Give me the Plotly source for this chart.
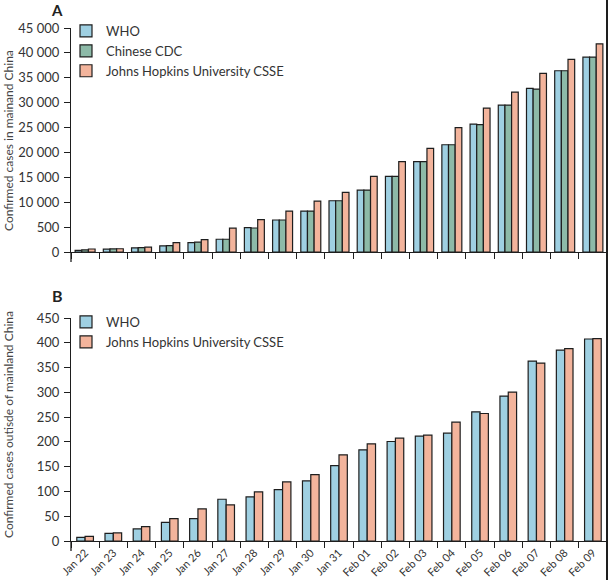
import plotly.graph_objects as go

dates = ["Jan 22", "Jan 23", "Jan 24", "Jan 25", "Jan 26", "Jan 27", "Jan 28", "Jan 29",
         "Jan 30", "Jan 31", "Feb 01", "Feb 02", "Feb 03", "Feb 04", "Feb 05", "Feb 06",
         "Feb 07", "Feb 08", "Feb 09"]

# Panel A: confirmed cases in mainland China
a_who = [310, 570, 830, 1250, 1900, 2560, 4900, 6430, 8230, 10300, 12450, 15190,
         18140, 21550, 25700, 29520, 32860, 36410, 39150]
a_cdc = [440, 610, 880, 1290, 1975, 2560, 4820, 6430, 8230, 10300, 12450, 15190,
         18140, 21550, 25570, 29520, 32730, 36410, 39150]
a_jhu = [600, 650, 960, 1870, 2480, 4800, 6500, 8230, 10240, 11980, 15190, 18140,
         20820, 24970, 28910, 32130, 35870, 38690, 41830]

# Panel B: confirmed cases outside of mainland China
b_who = [7.4, 15.5, 24.3, 37.7, 45.1, 84.2, 88.9, 103.7, 121.3, 152.2, 183.9, 200.8,
         211.5, 217.6, 260.7, 292.4, 363.1, 385.3, 407.6]
b_jhu = [9.4, 16.2, 29, 45.1, 64.7, 72.8, 99, 119.2, 134, 173.8, 196, 207.5,
         213.6, 239.8, 257.3, 300.5, 359, 388, 408.2]

a_ticks = [0, 5000, 10000, 15000, 20000, 25000, 30000, 35000, 40000, 45000]
a_ticktext = ["0", "500", "10 000", "15 000", "20 000", "25 000", "30 000", "35 000", "40 000", "45 000"]
b_ticks = [0, 50, 100, 150, 200, 250, 300, 350, 400, 450]

C_WHO = "#9fd0e2"
C_CDC = "#8dbaa8"
C_JHU = "#f3b49c"
OUT = dict(color="#1e1e1e", width=1.2)
FONT = "Lato"

fig = go.Figure()
wA = 0.236
fig.add_trace(go.Bar(x=dates, y=a_who, name="WHO", marker=dict(color=C_WHO, line=OUT),
                     width=wA, offset=-1.5 * wA, xaxis="x", yaxis="y", legend="legend"))
fig.add_trace(go.Bar(x=dates, y=a_cdc, name="Chinese CDC", marker=dict(color=C_CDC, line=OUT),
                     width=wA, offset=-0.5 * wA, xaxis="x", yaxis="y", legend="legend"))
fig.add_trace(go.Bar(x=dates, y=a_jhu, name="Johns Hopkins University CSSE", marker=dict(color=C_JHU, line=OUT),
                     width=wA, offset=0.5 * wA, xaxis="x", yaxis="y", legend="legend"))
wB = 0.295
fig.add_trace(go.Bar(x=dates, y=b_who, name="WHO", marker=dict(color=C_WHO, line=OUT),
                     width=wB, offset=-wB, xaxis="x2", yaxis="y2", legend="legend2"))
fig.add_trace(go.Bar(x=dates, y=b_jhu, name="Johns Hopkins University CSSE", marker=dict(color=C_JHU, line=OUT),
                     width=wB, offset=0, xaxis="x2", yaxis="y2", legend="legend2"))

axis_common = dict(showline=True, linecolor="#1e1e1e", linewidth=1.3, ticks="outside",
                   ticklen=6, tickwidth=1.3, tickcolor="#1e1e1e", showgrid=False, zeroline=False,
                   tickfont=dict(family=FONT, size=13, color="#333333"))

H = 513.0
W = 536.0
fig.update_layout(
    width=608, height=580,
    margin=dict(l=71, r=1, t=28, b=39, autoexpand=False),
    paper_bgcolor="white", plot_bgcolor="white",
    barmode="overlay",
    font=dict(family=FONT, size=12, color="#333333"),
    xaxis=dict(axis_common, type="category", tickson="boundaries", showticklabels=False,
               anchor="y", domain=[0, 1]),
    yaxis=dict(axis_common, range=[0, 45000], tickvals=a_ticks, ticktext=a_ticktext,
               anchor="x", domain=[(541 - 252) / H, 1.0], ticklabelstandoff=2),
    xaxis2=dict(axis_common, type="category", tickson="boundaries", tickangle=-45,
                anchor="y2", domain=[0, 1],
                tickfont=dict(family=FONT, size=11, color="#333333")),
    yaxis2=dict(axis_common, range=[0, 450], tickvals=b_ticks,
                anchor="x2", domain=[0, (541 - 318) / H], ticklabelstandoff=2),
    legend=dict(x=(66 - 71) / W, y=(541 - 16) / H, xanchor="left", yanchor="top",
                bgcolor="rgba(0,0,0,0)", font=dict(family=FONT, size=13, color="#333333"),
                tracegroupgap=0, itemwidth=30),
    legend2=dict(x=(66 - 71) / W, y=(541 - 307) / H, xanchor="left", yanchor="top",
                 bgcolor="rgba(0,0,0,0)", font=dict(family=FONT, size=13, color="#333333"),
                 tracegroupgap=0, itemwidth=30),
    annotations=[
        dict(text="<b>A</b>", x=(57 - 71) / W, y=(541 - 10) / H, xref="paper", yref="paper",
             showarrow=False, font=dict(family=FONT, size=15, color="#222222"), xanchor="center", yanchor="middle"),
        dict(text="<b>B</b>", x=(57 - 71) / W, y=(541 - 295) / H, xref="paper", yref="paper",
             showarrow=False, font=dict(family=FONT, size=16, color="#222222"), xanchor="center", yanchor="middle"),
        dict(text="Confirmed cases in mainand China", x=(8 - 71) / W, y=(541 - 141) / H,
             xref="paper", yref="paper", showarrow=False, textangle=-90,
             font=dict(family=FONT, size=12, color="#444444"), xanchor="center", yanchor="middle"),
        dict(text="Confirmed cases outisde of mainland China", x=(8 - 71) / W, y=(541 - 425) / H,
             xref="paper", yref="paper", showarrow=False, textangle=-90,
             font=dict(family=FONT, size=12, color="#444444"), xanchor="center", yanchor="middle"),
    ],
    shapes=[
        dict(type="line", xref="paper", yref="paper", x0=0, x1=0,
             y0=(541 - 252) / H, y1=(541 - 262) / H, line=dict(color="#1e1e1e", width=1.3)),
        dict(type="line", xref="paper", yref="paper", x0=0, x1=0,
             y0=0, y1=-10 / H, line=dict(color="#1e1e1e", width=1.3)),
        dict(type="line", xref="paper", yref="paper", x0=(607 - 71) / W, x1=(607 - 71) / W,
             y0=-39 / H, y1=(513 + 28) / H, line=dict(color="#1e1e1e", width=2)),
    ],
)

fig.write_html("out.html", config={"displayModeBar": False},
               post_script="document.body.style.margin='0px';")
